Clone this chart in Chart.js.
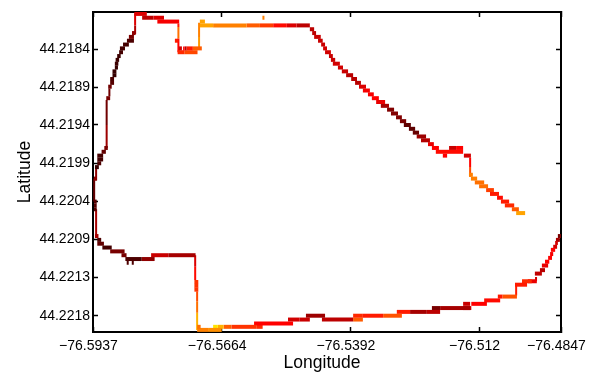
<!DOCTYPE html>
<html>
<head>
<meta charset="utf-8">
<script src="https://cdn.jsdelivr.net/npm/chart.js@4"></script>
<style>
  html, body { margin: 0; padding: 0; background: #fff; }
  #wrap { width: 590px; height: 373px; }
</style>
</head>
<body>
<div id="wrap"><canvas id="track" width="590" height="373"></canvas></div>
<script>
// axis labels sit on raster cells, not on a linear degree scale
const xTickCols = [0, 33, 66, 99, 120];
const xTickLabels = ['\u221276.5937', '\u221276.5664', '\u221276.5392', '\u221276.512', '\u221276.4847'];
const yTickRows = [9.2, 19.1, 29, 39, 48.9, 58.9, 68.8, 78.8];
const yTickLabels = ['44.2184', '44.2189', '44.2194', '44.2199', '44.2204', '44.2209', '44.2213', '44.2218'];

// horizontal runs of the track: start col, end col, row, heat
const hStart = [27.4,30.8,39.4,42.8,46.2,49.7,52.2,55.6,56.2,56.7,57.7,58.5,59,59.5,60.5,61,61.5,62.8,63.8,64.9,66.2,67.2,68.2,69.2,70.5,71.5,72.6,73.8,75.4,76.4,77.7,78.7,79.7,81,82,83,84.1,85.9,86.9,87.9,89.7,91.3,93.1,95.1,96.4,96.9,97.9,99,100.8,101.8,103.6,104.6,105.6,107.4,108.5,
  27.4,22,23.1,23.5,24,25.6,21.7,23.4,21,16.5,12.6,15.5,10.6,10,9.2,8.7,7.7,6.9,6.7,6.2,5.8,5.6,5.6,5,5,4.4,4.4,3.9,3.4,2.9,2.2,1.1,1.1,1.1,0.5,0.26,0.26,0.26,0.26,0.5,1.1,1.1,2.4,4.4,7.3,8.3,12.5,14.9,19.3,26,26,26,
  26.7,26.7,29.5,30.8,32,33.5,35.5,41.3,42,50,53,54.6,58.7,66.7,69.2,74.4,66.7,77.9,81.3,85.6,86.9,89,94.9,94.9,97,100.3,103.8,105,108.2,110,111.5,113.3,114.6,115.1,115.9,116.7,117.2,117.4,118,118.5,118.7,119.2];
const hEnd = [30.8,39.4,42.8,46.2,49.7,52.2,55.6,56.7,57.2,58.4,58.9,59.5,60,61,61.5,62.1,63.3,64.1,65.4,66.7,67.7,68.7,70,71,72,73.3,74.9,75.9,77.2,78.2,79.2,80.3,81.5,82.6,83.6,85.4,86.4,87.4,88.7,94.9,90.8,93.1,94.9,96.9,97.4,98.5,100.3,101.3,102.8,104.1,105.1,106.7,108,109.2,110.8,
  28.7,22.8,23.5,24,25.6,27.9,23.4,26.8,21.9,22.1,15.5,18.2,13.8,10.9,10.5,10.5,9.2,8.2,7.7,7.1,6.7,6.5,6.4,6,6,5.4,5.4,4.8,4.4,3.8,3.3,2.6,2.6,2.1,1.5,0.95,0.95,0.95,0.95,1.4,2.1,2.8,4.8,8.1,8.6,12.5,15.8,19.3,26.3,27,27,27,
  27.6,29.5,33,32,33.5,35.5,42,51.3,43.5,53,55.6,59.5,66.7,69.2,74.4,79.2,69.2,81.3,85.6,89,89,96.7,97,96.7,101,104.4,105,108.7,111.3,112.5,113.8,115.1,115.9,116.7,117,117.7,118,118.5,119,119.2,119.7,120];
const hRow = [3,3,3,3,3,3,3,4,5,6,7,8,9,10,11,12,13,14,15,16,17,18,19,20,21,22,23,24,25,26,27,28,29,30,31,32,33,34,35,36,37,35,35,37,42,43,44,45,46,47,48,49,50,51,52,
  2,9,9,9,9,9,10,10,7,2,1,1,0,5,6,7,8,9,10,11,12,13,14,15,16,17,18,19,22,35,36,37,38,39,40,43,49,50,51,58,59,60,61,62,63,64,64,63,63,70,71,72,
  81.7,82.5,82.5,81.7,81.7,81.7,81.7,80.8,81.7,79.8,79.8,78.8,79.8,78.8,78.8,78.8,79.8,77.8,77.8,77.8,76.8,76.8,76.8,75.7,75.7,74.8,73.8,73.8,70.7,69.8,69.8,67.8,66.9,65.7,64.7,63.7,62.7,61.6,60.8,59.8,59,58];
const hHeat = [0.82,0.75,0.68,0.62,0.52,0.42,0.35,0.35,0.35,0.38,0.38,0.38,0.4,0.4,0.38,0.38,0.4,0.4,0.38,0.34,0.34,0.34,0.42,0.48,0.48,0.5,0.45,0.3,0.22,0.22,0.22,0.2,0.14,0.14,0.16,0.28,0.33,0.45,0.5,0.52,0.5,0.38,0.5,0.4,0.75,0.75,0.72,0.72,0.62,0.55,0.52,0.55,0.58,0.68,0.82,
  0.82,0.4,0.5,0.35,0.55,0.68,0.58,0.64,0.55,0.48,0.35,0.42,0.42,0.25,0.2,0.1,0.08,0.08,0.08,0.06,0.06,0.06,0.05,0.05,0.05,0.1,0.12,0.18,0.2,0.2,0.15,0.08,0.08,0.1,0.05,0.25,0.12,0.12,0.12,0.3,0.1,0.15,0.08,0.2,0.2,0.1,0.25,0.38,0.3,0.6,0.6,0.6,
  0.72,0.75,0.78,0.95,0.85,0.68,0.6,0.5,0.58,0.4,0.38,0.28,0.35,0.58,0.55,0.66,0.68,0.55,0.3,0.35,0.2,0.3,0.38,0.38,0.5,0.52,0.55,0.66,0.55,0.58,0.45,0.36,0.34,0.45,0.5,0.5,0.48,0.5,0.4,0.4,0.3,0.2];

// vertical runs of the track: col, start row, end row, heat
const vCol = [96.7,96.7,43.7,27.2,27.2,21.9,21.9,21.9,10.8,10.8,4.2,3.5,3.5,0.8,0.3,0.8,8.9,10.2,26.2,26.2,26.7,26.7,26.7,108.5,113.6];
const vStart = [37.5,40,0.5,2.3,6,2.5,3.4,6.4,-0.2,3,19.5,22.5,29,40,43,51,64.5,64.5,63,66,72.5,75,78,70.7,68.7];
const vEnd = [40,42.5,1.5,6,9.3,3.4,6.4,10,3,5.3,21.5,29,35,43.5,49,58.5,65.5,65.5,66,69.5,75,78,82.5,73.5,69.8];
const vHeat = [0.5,0.65,0.75,0.75,0.8,0.55,0.72,0.5,0.42,0.32,0.18,0.18,0.28,0.25,0.15,0.3,0.1,0.1,0.42,0.52,0.65,0.72,0.85,0.55,0.4];

function heatColor(h) {
  let r, g;
  if (h < 0.5) {
    r = 32 + (255 - 32) * h / 0.5;
    g = 0;
  } else {
    r = 255;
    g = 255 * (h - 0.5) / 0.5;
  }
  return 'rgb(' + Math.round(r) + ',' + Math.round(g) + ',0)';
}

const datasets = [];
hStart.forEach((s, i) => {
  datasets.push({
    data: [{ x: s, y: hRow[i] }, { x: hEnd[i], y: hRow[i] }],
    borderColor: heatColor(hHeat[i]),
    borderWidth: 4
  });
});
vCol.forEach((c, i) => {
  datasets.push({
    data: [{ x: c, y: vStart[i] }, { x: c, y: vEnd[i] }],
    borderColor: heatColor(vHeat[i]),
    borderWidth: 2
  });
});

const fontFamily = '"Liberation Sans", Arial, sans-serif';
const font = { family: fontFamily, size: 14 };
const titleFont = { family: fontFamily, size: 17.5 };
const axisGrid = { drawOnChartArea: false, tickLength: -5, tickWidth: 1.5, tickColor: '#000' };
const axisBorder = { display: true, color: '#000', width: 2 };

// fixes the plot box so long tick labels do not push it in
function fixBox(s, size) {
  if (s.isHorizontal()) s.height = size; else s.width = size;
  s.paddingLeft = s.paddingRight = s.paddingTop = s.paddingBottom = 0;
}

// the x title sits a little left of the plot centre, same as the tick labels
const xTitle = {
  id: 'xTitle',
  afterDraw(chart) {
    const a = chart.chartArea, ctx = chart.ctx;
    ctx.save();
    ctx.fillStyle = '#000';
    ctx.font = titleFont.size + 'px ' + fontFamily;
    ctx.textAlign = 'center';
    ctx.textBaseline = 'middle';
    ctx.fillText('Longitude', (a.left + a.right) / 2 - 5, a.bottom + 31.5);
    ctx.restore();
  }
};

new Chart(document.getElementById('track').getContext('2d'), {
  type: 'line',
  data: { datasets: datasets },
  plugins: [xTitle],
  options: {
    responsive: false,
    animation: false,
    parsing: false,
    normalized: true,
    layout: { padding: 0 },
    elements: { point: { radius: 0 }, line: { borderCapStyle: 'butt', tension: 0 } },
    plugins: { legend: { display: false }, tooltip: { enabled: false } },
    scales: {
      x: {
        type: 'linear', position: 'bottom', min: 0, max: 120,
        grid: axisGrid, border: axisBorder,
        afterBuildTicks: s => { s.ticks = xTickCols.map(v => ({ value: v })); },
        afterFit: s => fixBox(s, 41),
        ticks: {
          color: '#000', font: font, padding: 11, labelOffset: -4.5, autoSkip: false, maxRotation: 0, minRotation: 0,
          callback: v => xTickLabels[xTickCols.indexOf(v)]
        }
      },
      x2: {
        type: 'linear', position: 'top', min: 0, max: 120,
        grid: axisGrid, border: axisBorder,
        afterBuildTicks: s => { s.ticks = xTickCols.map(v => ({ value: v })); },
        afterFit: s => fixBox(s, 12),
        ticks: { display: false }
      },
      y: {
        type: 'linear', position: 'left', reverse: true, min: -0.5, max: 83.05,
        grid: axisGrid, border: axisBorder,
        afterBuildTicks: s => { s.ticks = yTickRows.map(v => ({ value: v })); },
        afterFit: s => fixBox(s, 93),
        ticks: {
          color: '#000', font: font, padding: 8, autoSkip: false,
          callback: v => yTickLabels[yTickRows.indexOf(v)]
        },
        title: { display: true, text: 'Latitude', color: '#000', font: titleFont, padding: { top: 15, bottom: 0 } }
      },
      y2: {
        type: 'linear', position: 'right', reverse: true, min: -0.5, max: 83.05,
        grid: axisGrid, border: axisBorder,
        afterBuildTicks: s => { s.ticks = yTickRows.map(v => ({ value: v })); },
        afterFit: s => fixBox(s, 29),
        ticks: { display: false }
      }
    }
  }
});
</script>
</body>
</html>
